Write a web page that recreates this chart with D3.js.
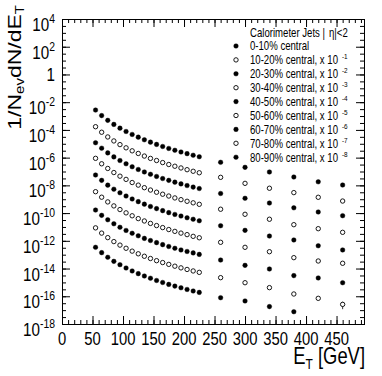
<!DOCTYPE html>
<html>
<head>
<meta charset="utf-8">
<script src="https://cdnjs.cloudflare.com/ajax/libs/d3/7.8.5/d3.min.js"></script>
<style>
  body { margin: 0; background: #fff; }
  svg { display: block; font-family: "Liberation Sans", Arial, Helvetica, sans-serif; }
</style>
</head>
<body>
<svg width="382" height="376"></svg>
<script>
// E_T bin centres (GeV)
const etFine = [55, 65, 75, 85, 95, 105, 115, 125, 135, 145, 155, 165, 175, 185, 195, 205, 215, 225];
const etWide = [260, 300, 340, 380, 420, 460];

// 1/Nev dN/dEt per centrality class (unscaled)
const fine_0_10 = [2.7e-3, 1.08e-3, 4.9e-4, 2.5e-4, 1.34e-4, 7.7e-5, 4.7e-5, 3.0e-5, 1.94e-5, 1.31e-5, 9.0e-6, 6.4e-6, 4.6e-6, 3.4e-6, 2.55e-6, 1.94e-6, 1.49e-6, 1.16e-6];
const wide_0_10 = [4.6e-7, 2.0e-7, 9.2e-8, 4.0e-8, 1.8e-8, 1.06e-8];
const fine_10_20 = [1.7e-3, 6.8e-4, 3.1e-4, 1.6e-4, 8.7e-5, 5.1e-5, 3.1e-5, 2.0e-5, 1.3e-5, 8.8e-6, 6.2e-6, 4.4e-6, 3.2e-6, 2.4e-6, 1.8e-6, 1.35e-6, 1.04e-6, 8.1e-7];
const wide_10_20 = [3.8e-7, 1.4e-7, 6.2e-8, 3.0e-8, 1.38e-8, 7.4e-9];
const fine_20_30 = [1.19e-3, 4.8e-4, 2.2e-4, 1.13e-4, 6.2e-5, 3.6e-5, 2.2e-5, 1.4e-5, 9.3e-6, 6.3e-6, 4.4e-6, 3.1e-6, 2.3e-6, 1.7e-6, 1.28e-6, 9.7e-7, 7.5e-7, 5.9e-7];
const wide_20_30 = [2.6e-7, 1.17e-7, 5.3e-8, 2.4e-8, 1.2e-8, 6.5e-9];
const fine_30_40 = [8.9e-4, 3.6e-4, 1.66e-4, 8.4e-5, 4.6e-5, 2.7e-5, 1.6e-5, 1.04e-5, 6.8e-6, 4.6e-6, 3.2e-6, 2.3e-6, 1.7e-6, 1.24e-6, 9.3e-7, 7.1e-7, 5.5e-7, 4.3e-7];
const wide_30_40 = [1.9e-7, 8.2e-8, 3.6e-8, 1.46e-8, 7.5e-9, 4.1e-9];
const fine_40_50 = [5.6e-4, 2.3e-4, 1.04e-4, 5.3e-5, 2.9e-5, 1.7e-5, 1.04e-5, 6.7e-6, 4.4e-6, 3.0e-6, 2.1e-6, 1.5e-6, 1.08e-6, 8.0e-7, 6.1e-7, 4.6e-7, 3.6e-7, 2.8e-7];
const wide_40_50 = [1.23e-7, 5.7e-8, 2.2e-8, 1.15e-8, 4.4e-9, 2.2e-9];
const fine_50_60 = [3.5e-4, 1.4e-4, 6.4e-5, 3.3e-5, 1.8e-5, 1.04e-5, 6.4e-6, 4.0e-6, 2.7e-6, 1.8e-6, 1.26e-6, 9.0e-7, 6.5e-7, 4.8e-7, 3.6e-7, 2.8e-7, 2.1e-7, 1.66e-7];
const wide_50_60 = [7.8e-8, 3.4e-8, 1.64e-8, 6.1e-9, 3.5e-9, 2.4e-9];
const fine_60_70 = [1.66e-4, 6.9e-5, 3.3e-5, 1.7e-5, 9.5e-6, 5.6e-6, 3.5e-6, 2.3e-6, 1.5e-6, 1.05e-6, 7.4e-7, 5.3e-7, 3.9e-7, 2.9e-7, 2.2e-7, 1.7e-7, 1.34e-7, 1.05e-7];
const wide_60_70 = [4.1e-8, 1.7e-8, 9.3e-9, 3.1e-9, 2.1e-9, 9.5e-10];
const fine_70_80 = [8.6e-5, 3.6e-5, 1.7e-5, 8.8e-6, 4.9e-6, 2.9e-6, 1.8e-6, 1.16e-6, 7.7e-7, 5.3e-7, 3.7e-7, 2.7e-7, 2.0e-7, 1.48e-7, 1.12e-7, 8.6e-8, 6.7e-8, 5.3e-8];
const wide_70_80 = [2.2e-8, 9.5e-9, 4.2e-9, 1.46e-9, 7.1e-10, 2.6e-10];
const wideErr_70_80 = [0, 0, 0, 0, 0, 0.55];
const fine_80_90 = [3.4e-5, 1.4e-5, 6.5e-6, 3.3e-6, 1.9e-6, 1.09e-6, 6.7e-7, 4.3e-7, 2.9e-7, 2.0e-7, 1.38e-7, 9.9e-8, 7.2e-8, 5.4e-8, 4.1e-8, 3.1e-8, 2.4e-8, 1.9e-8];
const wide_80_90 = [7.9e-9, 4.6e-9, 1.8e-9, 7.7e-10, null, null];

const classes = ["0-10%", "10-20%", "20-30%", "30-40%", "40-50%", "50-60%", "60-70%", "70-80%", "80-90%"];
const scaleExp = [0, -1, -2, -3, -4, -5, -6, -7, -8];
const filled = [true, false, true, false, true, false, true, false, true];
const yLabelExp = [4, 2, 0, -2, -4, -6, -8, -10, -12, -14, -16, -18];
const xLabels = [0, 50, 100, 150, 200, 250, 300, 350, 400, 450];

const fineData = [fine_0_10, fine_10_20, fine_20_30, fine_30_40, fine_40_50, fine_50_60, fine_60_70, fine_70_80, fine_80_90];
const wideData = [wide_0_10, wide_10_20, wide_20_30, wide_30_40, wide_40_50, wide_50_60, wide_60_70, wide_70_80, wide_80_90];
const wideErr = [null, null, null, null, null, null, null, wideErr_70_80, null];

var svg = d3.select("svg");
const SX = 0.8; // lettering in the reference is squeezed horizontally

var x = d3.scaleLinear().domain([0, 495]).range([62, 364]);
var y = d3.scaleLog().domain([1e-18, 1e4]).range([324, 19]);

// ticks on all four sides, pointing inwards
function ticks(axis, transform) {
	svg.append("g")
		.attr("transform", transform)
		.call(axis.tickSizeOuter(0).tickFormat(""))
		.call(g => g.select(".domain").remove());
}
var xMinor = d3.range(0, 491, 10);
var yMinor = d3.range(-36, 9).map(h => Math.pow(10, h / 2));
var yMajor = yLabelExp.map(e => Math.pow(10, e));

ticks(d3.axisBottom(x).tickValues(xMinor).tickSizeInner(-4), "translate(0,324)");
ticks(d3.axisBottom(x).tickValues(xLabels).tickSizeInner(-8), "translate(0,324)");
ticks(d3.axisTop(x).tickValues(xMinor).tickSizeInner(-4), "translate(0,19)");
ticks(d3.axisTop(x).tickValues(xLabels).tickSizeInner(-8), "translate(0,19)");
ticks(d3.axisLeft(y).tickValues(yMinor).tickSizeInner(-4), "translate(62,0)");
ticks(d3.axisLeft(y).tickValues(yMajor).tickSizeInner(-8), "translate(62,0)");
ticks(d3.axisRight(y).tickValues(yMinor).tickSizeInner(-4), "translate(364,0)");
ticks(d3.axisRight(y).tickValues(yMajor).tickSizeInner(-8), "translate(364,0)");

svg.append("rect")
	.attr("x", 62.5).attr("y", 19.5)
	.attr("width", 302).attr("height", 305)
	.attr("fill", "none").attr("stroke", "#000");

function squeezed(px, py, anchor, size) {
	return svg.append("text")
		.attr("transform", `translate(${px},${py}) scale(${SX},1)`)
		.attr("text-anchor", anchor)
		.attr("font-size", size);
}

// x labels
xLabels.forEach(v => squeezed(x(v), 345, "middle", 18.5).text(v));

// y labels
yLabelExp.forEach(e => {
	var yy = y(Math.pow(10, e));
	if (e === 0) {
		squeezed(55, yy + 7, "end", 19).text("1");
	} else {
		var t = squeezed(55, yy + 12, "end", 19);
		t.append("tspan").text("10");
		t.append("tspan").attr("dy", -8).attr("font-size", 13).text(e);
	}
});

// axis titles
var xt = squeezed(365, 364, "end", 23);
xt.append("tspan").text("E");
xt.append("tspan").attr("dy", 5).attr("font-size", 15).text("T");
xt.append("tspan").attr("dy", -5).text(" [GeV]");

var yt = svg.append("text")
	.attr("transform", `translate(21,5) scale(${SX},1) rotate(-90)`)
	.attr("text-anchor", "end")
	.attr("font-size", 23);
yt.append("tspan").text("1/N");
yt.append("tspan").attr("dy", 4).attr("font-size", 15).text("ev");
yt.append("tspan").attr("dy", -4).text("dN/dE");
yt.append("tspan").attr("dy", 4).attr("font-size", 15).text("T");

// data points
function marker(sel, isFilled) {
	sel.attr("r", isFilled ? 2.3 : 2.2)
		.attr("fill", isFilled ? "#000" : "#fff")
		.attr("stroke", "#000")
		.attr("stroke-width", isFilled ? 0.4 : 0.9);
}

classes.forEach((c, i) => {
	var f = Math.pow(10, scaleExp[i]);
	var pts = etFine.map((e, k) => ({ e: e, v: fineData[i][k], err: 0 }))
		.concat(etWide.map((e, k) => ({ e: e, v: wideData[i][k], err: wideErr[i] ? wideErr[i][k] : 0 })))
		.filter(d => d.v != null);
	var g = svg.append("g");
	g.selectAll("line")
		.data(pts.filter(d => d.err > 0))
		.join("line")
		.attr("x1", d => x(d.e)).attr("x2", d => x(d.e))
		.attr("y1", d => y(d.v * f * (1 + d.err)))
		.attr("y2", d => y(d.v * f * (1 - d.err)))
		.attr("stroke", "#000").attr("stroke-width", 0.8);
	g.selectAll("circle")
		.data(pts)
		.join("circle")
		.attr("cx", d => x(d.e))
		.attr("cy", d => y(d.v * f))
		.call(marker, filled[i]);
});

// legend
var hdr = squeezed(250, 37, "start", 12);
hdr.append("tspan").text("Calorimeter Jets |");
hdr.append("tspan").attr("dx", 5).text("\u03b7|<2");

classes.forEach((c, i) => {
	var cy = 46 + 13.9 * i;
	svg.append("circle").attr("cx", 236).attr("cy", cy).call(marker, filled[i]);
	var t = squeezed(250, cy + 4.3, "start", 12);
	if (scaleExp[i] === 0) {
		t.text(c + " central");
	} else {
		t.append("tspan").text(c + " central, x 10");
		t.append("tspan").attr("dx", 5).attr("dy", -5).attr("font-size", 8).text(scaleExp[i]);
	}
});
</script>
</body>
</html>
